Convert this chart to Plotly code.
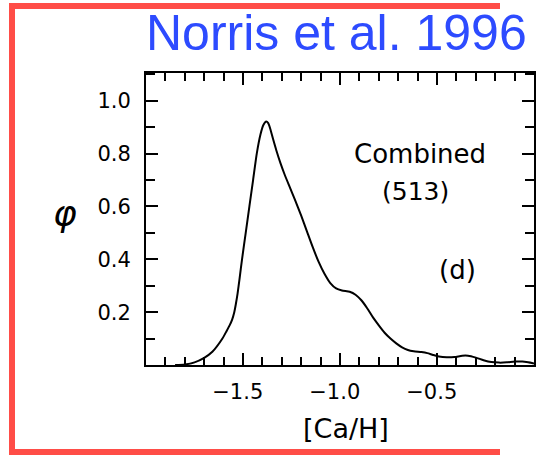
import plotly.graph_objects as go

# [Ca/H] values and generalized histogram phi
ca_h = [-1.85, -1.80, -1.75, -1.70, -1.658, -1.606, -1.585, -1.569, -1.556, -1.545,
        -1.537, -1.528, -1.518, -1.505, -1.486, -1.467, -1.448, -1.429, -1.41, -1.395,
        -1.38, -1.37, -1.36, -1.345, -1.328, -1.306, -1.285, -1.26, -1.233, -1.20,
        -1.17, -1.14, -1.11, -1.08, -1.05, -1.02, -0.99, -0.95, -0.92, -0.89,
        -0.86, -0.83, -0.80, -0.77, -0.74, -0.71, -0.68, -0.65, -0.62, -0.58,
        -0.55, -0.52, -0.49, -0.45, -0.41, -0.37, -0.34, -0.30, -0.26, -0.22,
        -0.18, -0.14, -0.10, -0.06, -0.03, 0.0]
phi = [0.0, 0.002, 0.01, 0.027, 0.05, 0.10, 0.128, 0.15, 0.172, 0.2,
       0.23, 0.27, 0.325, 0.4, 0.5, 0.6, 0.7, 0.8, 0.872, 0.908,
       0.921, 0.915, 0.895, 0.855, 0.812, 0.762, 0.72, 0.675, 0.627, 0.565,
       0.505, 0.445, 0.39, 0.345, 0.31, 0.29, 0.282, 0.277, 0.266, 0.245,
       0.215, 0.18, 0.15, 0.122, 0.10, 0.082, 0.067, 0.057, 0.052, 0.049,
       0.045, 0.038, 0.032, 0.029, 0.030, 0.035, 0.035, 0.028, 0.018, 0.011,
       0.009, 0.010, 0.013, 0.013, 0.010, 0.006]

x_tickvals = [-1.5, -1.0, -0.5]
x_ticktext = ["\u22121.5\u2002", "\u22121.0\u2002", "\u22120.5\u2002"]
y_tickvals = [0.2, 0.4, 0.6, 0.8, 1.0]
y_ticktext = ["0.2", "0.4", "0.6", "0.8", "1.0"]

fig = go.Figure()
fig.add_trace(go.Scatter(x=ca_h, y=phi, mode="lines",
                         line=dict(color="black", width=2, shape="spline", smoothing=0.6),
                         hoverinfo="skip", showlegend=False, cliponaxis=True))

tickfont = dict(family="DejaVu Sans", size=21, color="black")
fig.update_xaxes(range=[-2.0, 0.0], tickvals=x_tickvals, ticktext=x_ticktext,
                 ticks="inside", ticklen=12, tickwidth=1.5, tickcolor="black",
                 minor=dict(dtick=0.1, tick0=0, ticks="inside", ticklen=8, tickwidth=1.5, tickcolor="black"),
                 showline=True, linewidth=2, linecolor="black", mirror="allticks",
                 showgrid=False, zeroline=False, tickfont=tickfont, ticklabelstandoff=7)
fig.update_yaxes(range=[0, 1.105], tickvals=y_tickvals, ticktext=y_ticktext,
                 ticks="inside", ticklen=12, tickwidth=1.5, tickcolor="black",
                 minor=dict(dtick=0.1, tick0=0, ticks="inside", ticklen=9, tickwidth=1.5, tickcolor="black"),
                 showline=True, linewidth=2, linecolor="black", mirror="allticks",
                 showgrid=False, zeroline=False, tickfont=tickfont, ticklabelstandoff=9)

W, H = 553, 458
L, R, T, B = 146, 19, 73, 93
pw, ph = W - L - R, H - T - B

def px(xp):
    return (xp - L) / pw

def py(yp):
    return (H - B - yp) / ph

annotations = [
    dict(text="Norris et al. 1996", x=px(336), y=py(33), xref="paper", yref="paper",
         showarrow=False, xanchor="center", yanchor="middle",
         font=dict(family="Liberation Sans, Arial", size=50, color="#2D4BFF")),
    dict(text="[Ca/H]", x=px(346), y=py(428), xref="paper", yref="paper",
         showarrow=False, xanchor="center", yanchor="middle",
         font=dict(family="DejaVu Sans", size=27, color="black")),
    dict(text="<i>\u03c6</i>", x=px(65), y=py(213), xref="paper", yref="paper",
         showarrow=False, xanchor="center", yanchor="middle",
         font=dict(family="DejaVu Sans", size=36, color="black")),
    dict(text="Combined", x=px(420), y=py(154), xref="paper", yref="paper",
         showarrow=False, xanchor="center", yanchor="middle",
         font=dict(family="DejaVu Sans", size=26, color="black")),
    dict(text="(513)", x=px(415), y=py(191), xref="paper", yref="paper",
         showarrow=False, xanchor="center", yanchor="middle",
         font=dict(family="DejaVu Sans", size=25, color="black")),
    dict(text="(d)", x=px(457), y=py(270), xref="paper", yref="paper",
         showarrow=False, xanchor="center", yanchor="middle",
         font=dict(family="DejaVu Sans", size=26, color="black")),
]

red = "#FF4D47"
def band(x0, x1, y0, y1):
    return dict(type="rect", xref="paper", yref="paper",
                x0=px(x0), x1=px(x1), y0=py(y1), y1=py(y0),
                fillcolor=red, line=dict(width=0), layer="above")

shapes = [
    band(9, 15, 3, 455),
    band(9, 500, 3, 9),
    band(9, 500, 449, 455),
]

fig.update_layout(width=W, height=H, margin=dict(l=L, r=R, t=T, b=B, autoexpand=False),
                  paper_bgcolor="white", plot_bgcolor="white",
                  annotations=annotations, shapes=shapes)

fig.write_html("out.html")
